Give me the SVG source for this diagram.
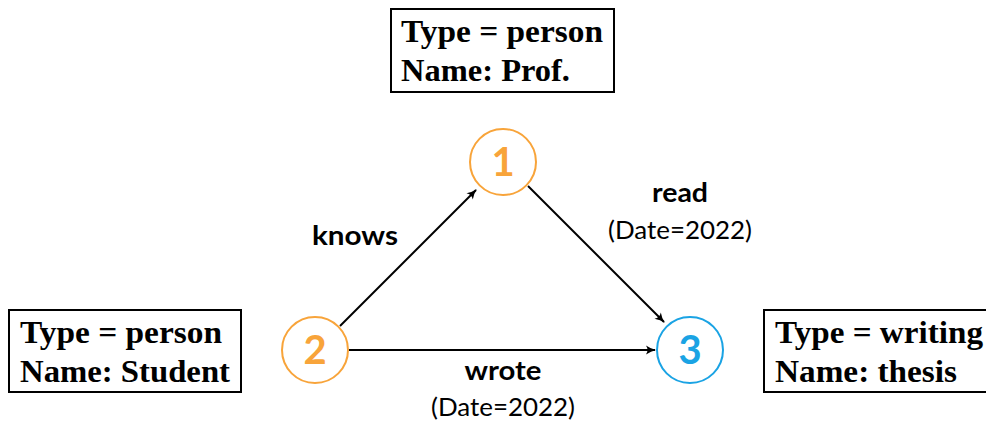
<svg xmlns="http://www.w3.org/2000/svg" width="986" height="423" viewBox="0 0 986 423">
  <style>
    .box { fill: #ffffff; stroke: #000000; stroke-width: 2; }
    .boxtxt { font-family: "Liberation Serif", "DejaVu Serif", serif; font-weight: bold; font-size: 31px; fill: #000000; }
    .node { fill: #ffffff; stroke-width: 2; }
    .orange { stroke: #F8A43A; }
    .blue { stroke: #1AA3E4; }
    .num { font-family: "Lato", "Open Sans", sans-serif; font-weight: bold; font-size: 40px; text-anchor: middle; }
    .edge { fill: none; stroke: #000000; stroke-width: 2; marker-end: url(#arrow); }
    .lbl { font-family: "Lato", "Open Sans", sans-serif; font-weight: bold; font-size: 26px; fill: #000000; text-anchor: middle; }
    .attr { font-family: "Lato", "Open Sans", sans-serif; font-size: 25px; fill: #000000; text-anchor: middle; }
  </style>
  <defs>
    <marker id="arrow" viewBox="0 0 12 12" refX="10" refY="6" markerWidth="12" markerHeight="12" markerUnits="userSpaceOnUse" orient="auto">
      <path d="M1,1.5 Q6,5 11,6 Q6,7 1,10.5 Q4,6 1,1.5 Z" fill="#000000"/>
    </marker>
  </defs>

  <!-- connectors -->
  <g id="edges">
    <line class="edge" x1="340" y1="326" x2="476" y2="190"/>
    <line class="edge" x1="528" y1="186" x2="664" y2="322"/>
    <line class="edge" x1="349" y1="350" x2="655" y2="350"/>
    <text class="lbl" x="355" y="245" textLength="86" lengthAdjust="spacingAndGlyphs">knows</text>
    <text class="lbl" x="680" y="202" textLength="56" lengthAdjust="spacingAndGlyphs">read</text>
    <text class="attr" x="680" y="239" textLength="144" lengthAdjust="spacingAndGlyphs">(Date=2022)</text>
    <text class="lbl" x="503" y="380" textLength="77" lengthAdjust="spacingAndGlyphs">wrote</text>
    <text class="attr" x="503" y="416" textLength="144" lengthAdjust="spacingAndGlyphs">(Date=2022)</text>
  </g>

  <!-- vertex 1 -->
  <g id="node1">
    <circle class="node orange" cx="503" cy="162" r="33"/>
    <text class="num" x="503" y="176" fill="#F8A43A">1</text>
  </g>

  <!-- vertex 2 -->
  <g id="node2">
    <circle class="node orange" cx="315" cy="350" r="33"/>
    <text class="num" x="315" y="364" fill="#F8A43A">2</text>
  </g>

  <!-- vertex 3 -->
  <g id="node3">
    <circle class="node blue" cx="690" cy="350" r="33"/>
    <text class="num" x="690" y="364" fill="#1AA3E4">3</text>
  </g>

  <!-- property boxes -->
  <g id="props1">
    <rect class="box" x="391" y="9" width="223" height="83"/>
    <text class="boxtxt" x="401" y="42" textLength="202" lengthAdjust="spacingAndGlyphs">Type = person</text>
    <text class="boxtxt" x="401" y="81" textLength="169" lengthAdjust="spacingAndGlyphs">Name: Prof.</text>
  </g>

  <g id="props2">
    <rect class="box" x="9" y="310" width="232" height="82"/>
    <text class="boxtxt" x="20" y="343" textLength="202" lengthAdjust="spacingAndGlyphs">Type = person</text>
    <text class="boxtxt" x="20" y="382" textLength="210" lengthAdjust="spacingAndGlyphs">Name: Student</text>
  </g>

  <g id="props3">
    <rect class="box" x="764" y="310" width="240" height="82"/>
    <text class="boxtxt" x="775" y="343" textLength="208" lengthAdjust="spacingAndGlyphs">Type = writing</text>
    <text class="boxtxt" x="775" y="382" textLength="182" lengthAdjust="spacingAndGlyphs">Name: thesis</text>
  </g>
</svg>
